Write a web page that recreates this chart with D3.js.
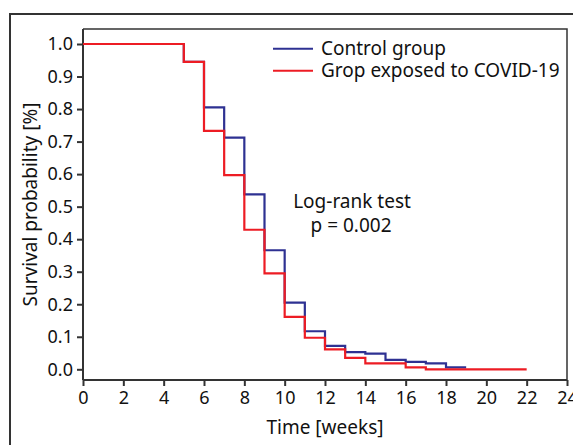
<!DOCTYPE html>
<html><head><meta charset="utf-8">
<script src="https://cdn.jsdelivr.net/npm/d3@7"></script>
<style>html,body{margin:0;padding:0;background:#fff;}svg{display:block;}</style>
</head><body>
<script>
// Data
const controlTimes  = [0, 5, 6, 7, 8, 9, 10, 11, 12, 13, 14, 15, 16, 17, 18, 19];
const controlValues = [1.0, 0.945, 0.805, 0.712, 0.538, 0.366, 0.205, 0.117, 0.072, 0.053, 0.048, 0.029, 0.023, 0.018, 0.006, 0.006];
const covidTimes    = [0, 5, 6, 7, 8, 9, 10, 11, 12, 13, 14, 15, 16, 17, 22];
const covidValues   = [1.0, 0.945, 0.733, 0.597, 0.429, 0.295, 0.161, 0.097, 0.061, 0.035, 0.018, 0.018, 0.006, 0.0, 0.0];
const xTicks = [0, 2, 4, 6, 8, 10, 12, 14, 16, 18, 20, 22, 24];
const yTicks = [0.0, 0.1, 0.2, 0.3, 0.4, 0.5, 0.6, 0.7, 0.8, 0.9, 1.0];
const seriesNames = ["Control group", "Grop exposed to COVID-19"];
const seriesColors = ["#2e3192", "#ed1c24"];

const W = 573, H = 445;
const FONT = "'Noto Sans', sans-serif";
const FS = 19, TFS = 18;
const svg = d3.select("body").append("svg").attr("width", W).attr("height", H)
  .style("font-family", FONT);

// outer frame (cropped)
svg.append("rect").attr("x", 10).attr("y", 14).attr("width", 700).attr("height", 600)
  .attr("fill", "none").attr("stroke", "#333").attr("stroke-width", 2);

const L = 83, R = 567, T = 29, B = 380;
const x = d3.scaleLinear().domain([0, 24]).range([L, R]);
const y = d3.scaleLinear().domain([0, 1]).range([369.3, 44]);

// top and right frame lines
svg.append("path").attr("d", `M${L},${T}H${R}V${B}`).attr("fill", "none")
  .attr("stroke", "#333").attr("stroke-width", 1.5);

// axes
const xAxis = d3.axisBottom(x).tickValues(xTicks).tickFormat(d3.format("d")).tickSize(6).tickPadding(5);
const gx = svg.append("g").attr("transform", `translate(0,${B})`).call(xAxis);
gx.select(".domain").attr("d", `M${L},0H${R}`);
const yAxis = d3.axisLeft(y).tickValues(yTicks).tickFormat(d3.format(".1f")).tickSize(6).tickPadding(4);
const gy = svg.append("g").attr("transform", `translate(${L},0)`).call(yAxis);
gy.select(".domain").attr("d", `M0,${T}V${B}`);
[gx, gy].forEach(g => {
  g.selectAll(".domain").attr("stroke", "#333").attr("stroke-width", 2);
  g.selectAll(".tick line").attr("stroke", "#333").attr("stroke-width", 2);
  g.selectAll("text").attr("font-family", FONT).attr("font-size", TFS).attr("fill", "#111");
});
gx.selectAll(".tick text").attr("dy", "0.71em");

// axis titles
svg.append("text").attr("x", (L + R) / 2).attr("y", 434).attr("text-anchor", "middle")
  .attr("font-size", FS).attr("fill", "#111").text("Time [weeks]");
svg.append("text").attr("transform", `translate(37,${(T + B) / 2}) rotate(-90)`)
  .attr("text-anchor", "middle").attr("font-size", FS).attr("fill", "#111")
  .text("Survival probability [%]");

// step lines
const line = d3.line().x(d => x(d[0])).y(d => y(d[1])).curve(d3.curveStepAfter);
const series = [
  controlTimes.map((t, i) => [t, controlValues[i]]),
  covidTimes.map((t, i) => [t, covidValues[i]])
];
series.forEach((s, i) => {
  svg.append("path").datum(s).attr("d", line).attr("fill", "none")
    .attr("stroke", seriesColors[i]).attr("stroke-width", 2.2);
});

// legend
seriesNames.forEach((n, i) => {
  const ly = 48.7 + i * 22;
  svg.append("line").attr("x1", 273).attr("x2", 313).attr("y1", ly).attr("y2", ly)
    .attr("stroke", seriesColors[i]).attr("stroke-width", 2);
  svg.append("text").attr("x", 321).attr("y", ly).attr("dy", "0.35em")
    .attr("font-size", FS).attr("fill", "#111").text(n);
});

// annotation
svg.append("text").attr("x", 352).attr("y", 208).attr("text-anchor", "middle")
  .attr("font-size", FS).attr("fill", "#111").text("Log-rank test");
svg.append("text").attr("x", 351).attr("y", 232).attr("text-anchor", "middle")
  .attr("font-size", FS).attr("fill", "#111").text("p = 0.002");
</script>
</body></html>
